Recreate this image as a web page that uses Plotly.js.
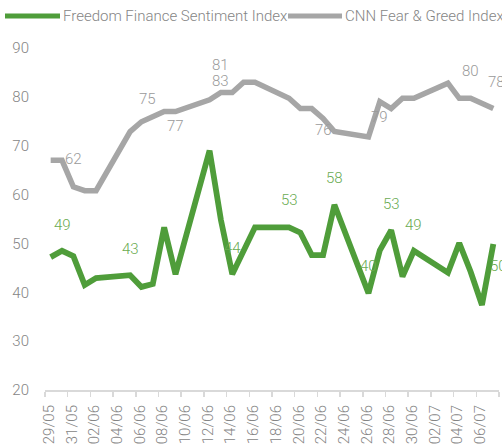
<!DOCTYPE html>
<html>
<head>
<meta charset="utf-8">
<script src="https://cdn.plot.ly/plotly-3.0.1.min.js"></script>
<style>html,body{margin:0;padding:0;background:#fff;}#chart{width:502px;height:444px;}</style>
</head>
<body>
<div id="chart"></div>
<script>
// ---- data (2023 trading days) ----
const dates = ['2023-05-29','2023-05-30','2023-05-31','2023-06-01','2023-06-02',
  '2023-06-05','2023-06-06','2023-06-07','2023-06-08','2023-06-09',
  '2023-06-12','2023-06-13','2023-06-14','2023-06-15','2023-06-16',
  '2023-06-19','2023-06-20','2023-06-21','2023-06-22','2023-06-23',
  '2023-06-26','2023-06-27','2023-06-28','2023-06-29','2023-06-30',
  '2023-07-03','2023-07-04','2023-07-05','2023-07-06','2023-07-07'];
const freedomIndex = [47.2,48.5,47.4,41.5,42.9, 43.5,41.1,41.7,53.3,43.7,
  69.0,54.8,43.7,48.5,53.3, 53.3,52.2,47.6,47.6,57.9,
  39.8,48.6,52.7,43.2,48.5, 44.0,50.1,44.2,37.4,49.9];
const cnnIndex = [67,67,61.6,60.8,60.8, 72.9,74.9,76,77,77,
  79.4,80.9,80.9,83,83, 79.7,77.6,77.6,75.6,72.9,
  71.8,79,77.6,79.7,79.7, 82.8,79.7,79.7,78.7,77.6];
const seriesNames = ['Freedom Finance Sentiment Index','CNN Fear & Greed Index'];

const tickDates = ['2023-05-29','2023-05-31','2023-06-02','2023-06-04','2023-06-06','2023-06-08',
  '2023-06-10','2023-06-12','2023-06-14','2023-06-16','2023-06-18','2023-06-20','2023-06-22',
  '2023-06-24','2023-06-26','2023-06-28','2023-06-30','2023-07-02','2023-07-04','2023-07-06','2023-07-08'];
const tickLabels = ['29/05','31/05','02/06','04/06','06/06','08/06','10/06','12/06','14/06','16/06',
  '18/06','20/06','22/06','24/06','26/06','28/06','30/06','02/07','04/07','06/07',''];

// data labels as shown in the chart
const freedomLabelDates = ['2023-05-30','2023-06-05','2023-06-14','2023-06-19','2023-06-23','2023-06-26','2023-06-28','2023-06-30','2023-07-07'];
const freedomLabelTexts = ['49','43','44','53','58','40','53','49','50'];
const cnnLabelDates = ['2023-05-31','2023-06-06','2023-06-09','2023-06-13','2023-06-13','2023-06-22','2023-06-27','2023-07-05','2023-07-07'];
const cnnLabelTexts = ['62','75','77','81','83','76','79','80','78'];

// ---- layout offsets (pixels) for labels ----
const freedomLabelShift = [[0,26],[0,26],[0,26],[0,27],[0,27],[0,27],[0,26],[0,26],[5,-22]];
const cnnLabelShift = [[0,28],[6,23],[0,-14],[0,27],[0,11],[0,-12],[0,-15],[0,27],[3,27]];

const GREEN = '#4f9d3a', GRAY = '#a6a6a6', TXT = '#858585';
const FONT = 'Roboto, "Liberation Sans Narrow", sans-serif';
const FS = 15;
const mid = d => d + 'T12:00:00';   // each day is plotted at the centre of its slot

const traces = [
  {x: dates.map(mid), y: freedomIndex, name: seriesNames[0], type: 'scatter', mode: 'lines',
   line: {color: GREEN, width: 5.8}, showlegend: false},
  {x: dates.map(mid), y: cnnIndex, name: seriesNames[1], type: 'scatter', mode: 'lines',
   line: {color: GRAY, width: 5.5}, showlegend: false}
];

const annotations = [];
function addLabels(lDates, lTexts, shifts, series, color) {
  lDates.forEach((d, i) => {
    const idx = dates.indexOf(d);
    annotations.push({x: mid(d), y: series[idx], xref: 'x', yref: 'y', text: lTexts[i],
      showarrow: false, xshift: shifts[i][0], yshift: shifts[i][1],
      font: {family: FONT, size: FS, color: color, weight: 300}});
  });
}
addLabels(freedomLabelDates, freedomLabelTexts, freedomLabelShift, freedomIndex, '#6aab52');
addLabels(cnnLabelDates, cnnLabelTexts, cnnLabelShift, cnnIndex, '#9a9a9a');

// manual legend text
annotations.push({xref: 'paper', yref: 'paper', x: 0, y: 1, xanchor: 'left', yanchor: 'middle',
  xshift: 16, yshift: 32, text: seriesNames[0], showarrow: false,
  font: {family: FONT, size: FS, color: TXT, weight: 300}});
annotations.push({xref: 'paper', yref: 'paper', x: 0, y: 1, xanchor: 'left', yanchor: 'middle',
  xshift: 298, yshift: 32, text: seriesNames[1], showarrow: false,
  font: {family: FONT, size: FS, color: TXT, weight: 300}});

const shapes = [
  {type: 'line', xref: 'paper', yref: 'paper', xsizemode: 'pixel', ysizemode: 'pixel',
   xanchor: 0, yanchor: 1, x0: -40, x1: 15, y0: 32, y1: 32, line: {color: GREEN, width: 5}},
  {type: 'line', xref: 'paper', yref: 'paper', xsizemode: 'pixel', ysizemode: 'pixel',
   xanchor: 0, yanchor: 1, x0: 243, x1: 297, y0: 32, y1: 32, line: {color: GRAY, width: 5}}
];

const layout = {
  width: 502, height: 444,
  margin: {l: 45, r: 3, t: 48, b: 54, pad: 0},
  paper_bgcolor: '#fff', plot_bgcolor: '#fff',
  font: {family: FONT, size: FS, color: TXT, weight: 300},
  showlegend: false,
  xaxis: {type: 'date', range: ['2023-05-29', '2023-07-08'],
    tickmode: 'array', tickvals: tickDates, ticktext: tickLabels,
    tickangle: -90, ticks: 'outside', ticklen: 5, tickwidth: 1.5, tickcolor: '#d9d9d9',
    showline: true, linecolor: '#d9d9d9', linewidth: 2, showgrid: false, zeroline: false,
    ticklabelshift: 4, ticklabelstandoff: 2,
    tickfont: {family: FONT, size: FS, color: TXT, weight: 300}},
  yaxis: {range: [20, 90], dtick: 10, tick0: 20, showgrid: false, zeroline: false,
    showline: false, ticks: '', ticklabelstandoff: 15,
    tickfont: {family: FONT, size: FS, color: TXT, weight: 300}},
  annotations: annotations,
  shapes: shapes
};

Plotly.newPlot('chart', traces, layout, {displayModeBar: false, staticPlot: true});
</script>
</body>
</html>
